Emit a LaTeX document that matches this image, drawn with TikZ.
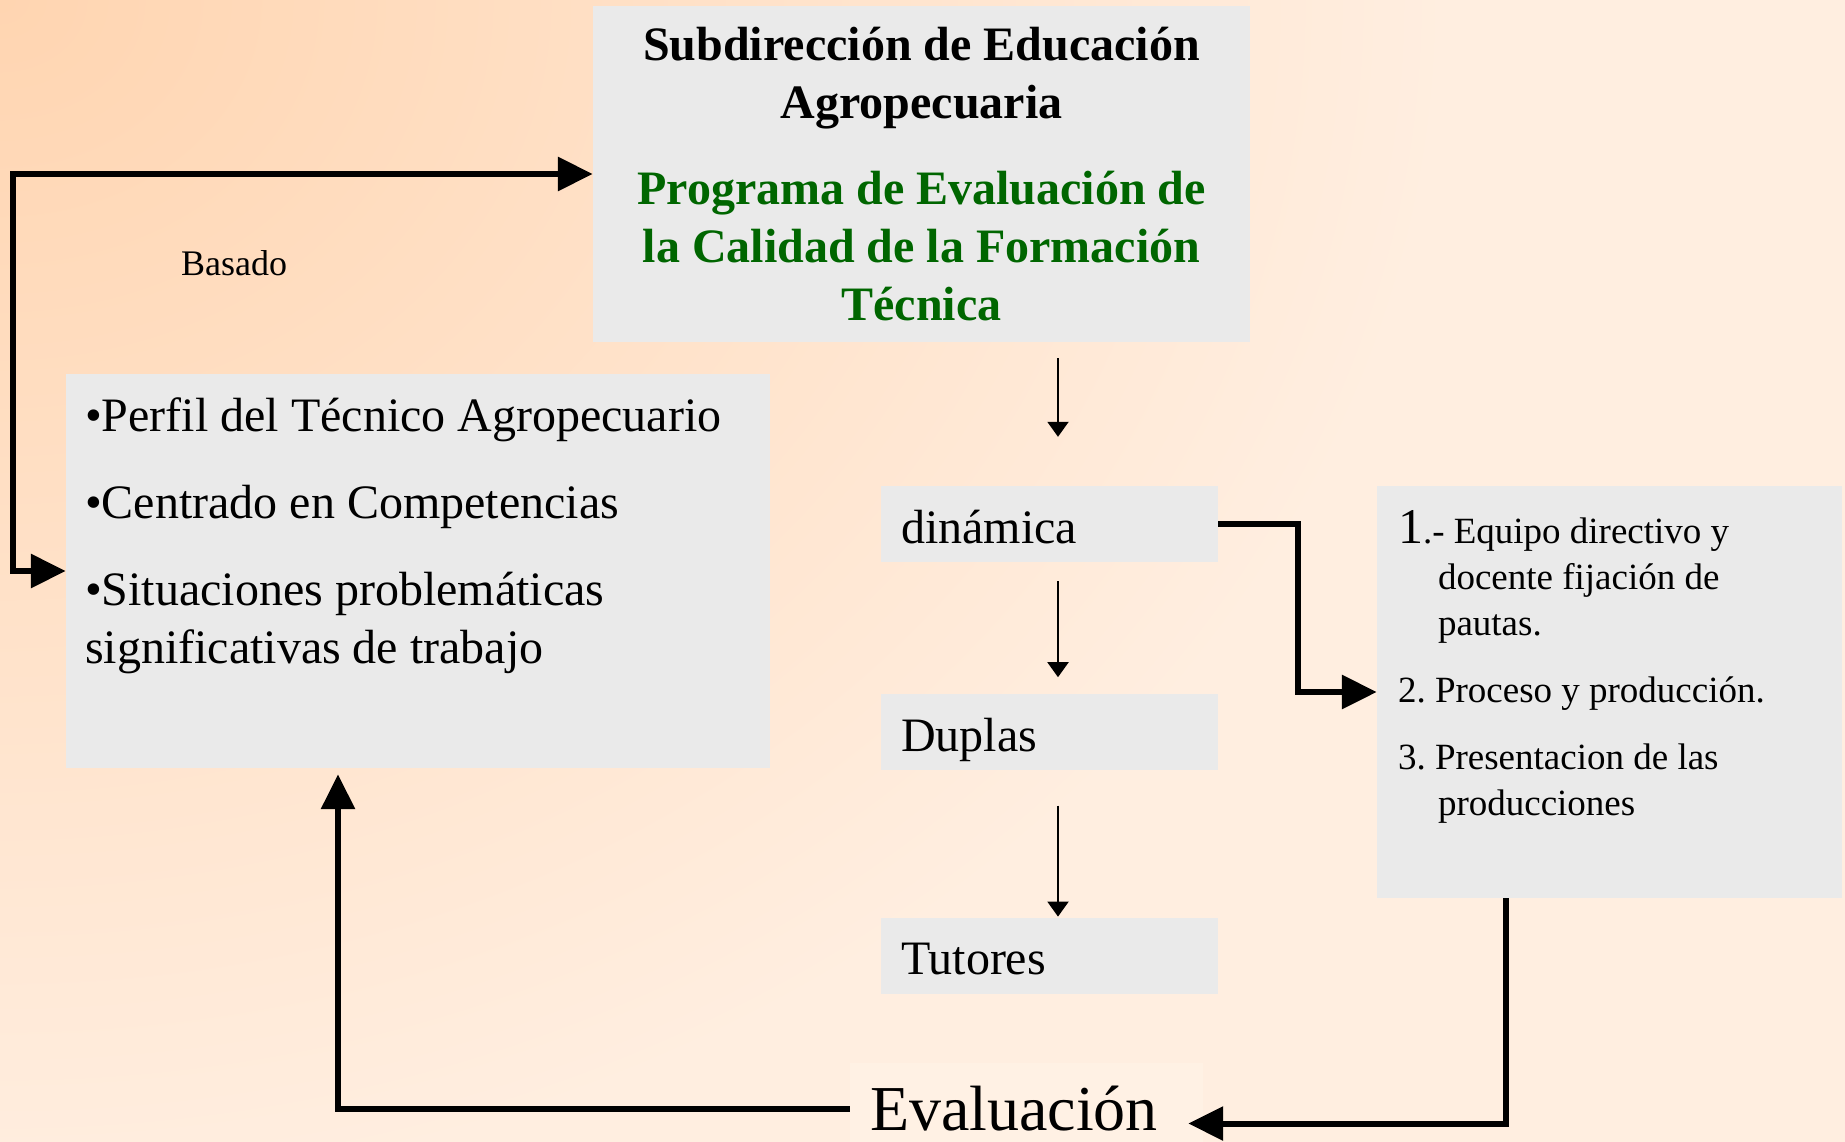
\documentclass[tikz,border=0pt]{standalone}
\usepackage{fontspec}
\setmainfont{Liberation Serif}
\usepackage{xcolor}
\usetikzlibrary{arrows.meta,calc,positioning}

\definecolor{fondoA}{RGB}{255,213,177}
\definecolor{fondoB}{RGB}{255,238,224}
\definecolor{cajagris}{RGB}{234,234,234}
\definecolor{evalfondo}{RGB}{255,241,228}
\definecolor{verde}{RGB}{0,102,0}

\begin{document}
\begin{tikzpicture}[
        x=1pt, y=-1pt,
        caja/.style = {fill=cajagris, inner sep=0pt},
        etapa/.style = {caja, text width=297pt, inner xsep=20pt, minimum height=76pt,
                        align=left, text height=38pt, text depth=0pt,
                        font=\fontsize{48}{58}\selectfont},
        lista/.style = {anchor=north west, inner sep=0pt, align=left},
        gruesa/.style = {line width=6pt, >={Triangle[length=35pt,width=33pt]}},
        fina/.style = {line width=2pt, -{Triangle[length=15pt,width=21pt]}}
    ]

    % background
    \useasboundingbox (0,0) rectangle (1845,1142);
    \fill[fondoB] (0,0) rectangle (1845,1142);
    \begin{scope}
        \clip (0,0) rectangle (1845,1142);
        \shade[inner color=fondoA, outer color=fondoB] (0,0) ellipse (1450 and 1200);
    \end{scope}

    % Subdireccion at the top
    \node[caja, minimum width=657pt, minimum height=336pt, align=center,
          font=\bfseries\fontsize{48}{58}\selectfont] (sub) at (921.5,174)
        {Subdirección de Educación\\Agropecuaria\\[28pt]\textcolor{verde}{Programa de Evaluación de}\\\textcolor{verde}{la Calidad de la Formación}\\\textcolor{verde}{Técnica}};

    % Perfil box on the left
    \node[caja, minimum width=704pt, minimum height=394pt] (perfil) at (418,571) {};
    \node[lista, font=\fontsize{48}{58}\selectfont] (perfiltxt) at ($(perfil.north west)+(19,24)$)
        {•Perfil del Técnico Agropecuario\\[29pt]•Centrado en Competencias\\[29pt]•Situaciones problemáticas\\significativas de trabajo};

    \node[anchor=base west, inner sep=0pt, font=\fontsize{36}{40}\selectfont] (basado) at (181,276) {Basado};

    % middle column
    \node[etapa] (din) at (1049.5,524) {dinámica};
    \node[etapa, below=132pt of din] (duplas) {Duplas};
    \node[etapa, below=147pt of duplas] (tutores) {Tutores};

    % steps on the right
    \node[caja, minimum width=465pt, minimum height=412pt] (pasos) at (1609.5,692) {};
    \node[lista, font=\fontsize{37}{46}\selectfont] (pasostxt) at ($(pasos.north west)+(21,24)$)
        {{\fontsize{50}{46}\selectfont 1}.- Equipo directivo y\\\hspace*{40pt}docente fijación de\\\hspace*{40pt}pautas.\\[21pt]2.\ Proceso y producción.\\[21pt]3.\ Presentacion de las\\\hspace*{40pt}producciones};

    % Evaluacion at the bottom
    \node[fill=evalfondo, minimum height=79pt, inner ysep=0pt, inner xsep=20pt, text width=313pt,
          align=left, text height=56pt, text depth=0pt, font=\fontsize{64}{64}\selectfont] (eval) at (1026.5,1102.5) {Evaluación};

    % thin arrows
    \coordinate (eje) at (1058,0);
    \draw[fina, shorten <=16pt, shorten >=49pt] (sub.south -| eje) -- (din.north -| eje);
    \draw[fina, shorten <=19pt, shorten >=17pt] (din.south -| eje) -- (duplas.north -| eje);
    \draw[fina, shorten <=35pt, shorten >=1pt] (duplas.south -| eje) -- (tutores.north -| eje);

    % thick arrows
    \draw[gruesa, <->] (sub.west) -- ++(-580,0) |- (perfil.west);
    \draw[gruesa, ->] (din.east) -- ++(80,0) |- (pasos.west);
    \draw[gruesa, ->] ([xshift=-104pt]pasos.south) |- ([xshift=-15pt,yshift=-21pt]eval.east);
    \draw[gruesa, ->, shorten >=6pt] ([yshift=-6pt]eval.west) -| ([xshift=-80pt]perfil.south);

\end{tikzpicture}
\end{document}
